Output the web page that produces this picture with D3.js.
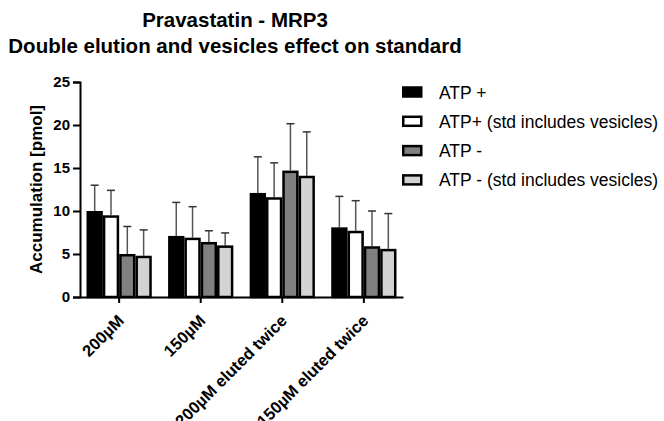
<!DOCTYPE html>
<html>
<head>
<meta charset="utf-8">
<script src="https://cdn.jsdelivr.net/npm/d3@7"></script>
<style>
  body { margin: 0; background: #fff; }
  svg { display: block; font-family: Arial, "Liberation Sans", sans-serif; }
</style>
</head>
<body>
<svg id="chart" width="664" height="421"></svg>
<script>
// data
var categories = ["200\u00b5M", "150\u00b5M", "200\u00b5M eluted twice", "150\u00b5M eluted twice"];
var seriesNames = ["ATP +", "ATP+ (std includes vesicles)", "ATP -", "ATP - (std includes vesicles)"];
var atpPlus = [10.0, 7.1, 12.1, 8.1];
var atpPlusErr = [3.0, 3.9, 4.2, 3.6];
var atpPlusStd = [9.5, 6.9, 11.6, 7.7];
var atpPlusStdErr = [2.9, 3.6, 4.0, 3.5];
var atpMinus = [5.0, 6.4, 14.7, 5.9];
var atpMinusErr = [3.2, 1.3, 5.45, 4.1];
var atpMinusStd = [4.8, 6.0, 14.1, 5.6];
var atpMinusStdErr = [3.0, 1.45, 5.1, 4.1];
var yTicks = [0, 5, 10, 15, 20, 25];
var fills = ["#000000", "#ffffff", "#808080", "#d3d3d3"];

var values = [atpPlus, atpPlusStd, atpMinus, atpMinusStd];
var errors = [atpPlusErr, atpPlusStdErr, atpMinusErr, atpMinusStdErr];

var svg = d3.select("#chart");
var margin = {left: 80, right: 403, top: 82, bottom: 297};

var x = d3.scaleBand()
    .domain(categories)
    .range([margin.left, margin.right])
    .paddingInner(0.2)
    .paddingOuter(0.08);

var xSub = d3.scaleBand()
    .domain(d3.range(seriesNames.length))
    .range([0, x.bandwidth()]);

var y = d3.scaleLinear()
    .domain([0, 25])
    .range([margin.bottom, margin.top]);

// title
var title = svg.append("text")
    .attr("text-anchor", "middle")
    .style("font-weight", "bold")
    .style("font-size", "20.5px");
title.append("tspan").attr("x", 235).attr("y", 27).text("Pravastatin - MRP3");
title.append("tspan").attr("x", 235).attr("y", 53).text("Double elution and vesicles effect on standard");

// bars
var bars = [];
categories.forEach(function(c, i){
    values.forEach(function(v, s){
        bars.push({cat: c, s: s, v: v[i], e: errors[s][i]});
    });
});

var sw = 2.5;
function cx(d){ return x(d.cat) + xSub(d.s) + xSub.bandwidth() / 2; }

// error bars (drawn first, bars cover the lower part)
var err = svg.append("g").selectAll("g")
    .data(bars)
    .enter()
    .append("g");
err.append("line")
    .attr("x1", cx)
    .attr("x2", cx)
    .attr("y1", function(d){ return y(d.v); })
    .attr("y2", function(d){ return y(d.v + d.e); })
    .style("stroke", "#555")
    .style("stroke-width", 1.5);
err.append("line")
    .attr("x1", function(d){ return cx(d) - 4; })
    .attr("x2", function(d){ return cx(d) + 4; })
    .attr("y1", function(d){ return y(d.v + d.e); })
    .attr("y2", function(d){ return y(d.v + d.e); })
    .style("stroke", "#333")
    .style("stroke-width", 1.5);

svg.append("g").selectAll("rect")
    .data(bars)
    .enter()
    .append("rect")
    .attr("x", function(d){ return x(d.cat) + xSub(d.s) + sw / 2; })
    .attr("y", function(d){ return y(d.v) + sw / 2; })
    .attr("width", xSub.bandwidth() - sw)
    .attr("height", function(d){ return y(0) - y(d.v) - sw / 2; })
    .style("fill", function(d){ return fills[d.s]; })
    .style("stroke", "#000")
    .style("stroke-width", sw);

// y axis
var yAxis = svg.append("g")
    .attr("transform", "translate(" + margin.left + ",0)")
    .call(d3.axisLeft(y).tickValues(yTicks).tickSize(7).tickPadding(3));
yAxis.selectAll("text")
    .style("font-size", "15px")
    .style("font-weight", "bold")
    .style("fill", "#000");

// x axis
var xAxis = svg.append("g")
    .attr("transform", "translate(0," + y(0) + ")")
    .call(d3.axisBottom(x).tickSize(6).tickSizeOuter(0));
xAxis.selectAll("text")
    .attr("text-anchor", "end")
    .attr("transform", "translate(-3,16) rotate(-45)")
    .attr("dy", "0.75em")
    .attr("y", 0)
    .style("font-size", "16.5px")
    .style("font-weight", "bold")
    .style("fill", "#000");

svg.selectAll(".domain, .tick line")
    .style("stroke", "#000")
    .style("stroke-width", 2);

// y axis label
svg.append("text")
    .attr("transform", "translate(42," + (y(0) + y(25)) / 2 + ") rotate(-90)")
    .attr("text-anchor", "middle")
    .style("font-size", "17px")
    .style("font-weight", "bold")
    .text("Accumulation [pmol]");

// legend
var legend = svg.append("g").selectAll("g")
    .data(seriesNames)
    .enter()
    .append("g")
    .attr("transform", function(d, i){ return "translate(402," + (92 + i * 29.3) + ")"; });
legend.append("rect")
    .attr("x", 1.25)
    .attr("y", -4.5)
    .attr("width", 18)
    .attr("height", 9)
    .style("fill", function(d, i){ return fills[i]; })
    .style("stroke", "#000")
    .style("stroke-width", 2.5);
legend.append("text")
    .attr("x", 37)
    .attr("y", 6.5)
    .style("font-size", "17.5px")
    .text(function(d){ return d; });
</script>
</body>
</html>
